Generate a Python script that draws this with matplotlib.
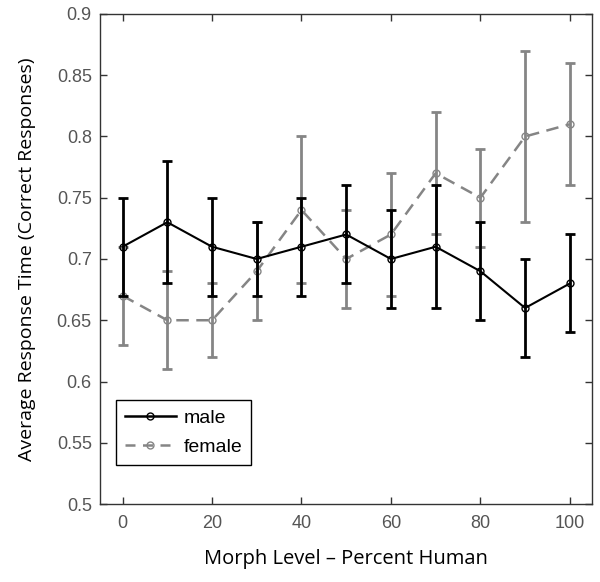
import numpy as np
import matplotlib
matplotlib.use("Agg")
import matplotlib.pyplot as plt
from matplotlib.lines import Line2D

morph = [0, 10, 20, 30, 40, 50, 60, 70, 80, 90, 100]

male_mean = [0.71, 0.73, 0.71, 0.70, 0.71, 0.72, 0.70, 0.71, 0.69, 0.66, 0.68]
male_lo = [0.67, 0.68, 0.67, 0.67, 0.67, 0.68, 0.66, 0.66, 0.65, 0.62, 0.64]
male_hi = [0.75, 0.78, 0.75, 0.73, 0.75, 0.76, 0.74, 0.76, 0.73, 0.70, 0.72]

female_mean = [0.67, 0.65, 0.65, 0.69, 0.74, 0.70, 0.72, 0.77, 0.75, 0.80, 0.81]
female_lo = [0.63, 0.61, 0.62, 0.65, 0.68, 0.66, 0.67, 0.72, 0.71, 0.73, 0.76]
female_hi = [0.71, 0.69, 0.68, 0.73, 0.80, 0.74, 0.77, 0.82, 0.79, 0.87, 0.86]

xticks = [0, 20, 40, 60, 80, 100]
yticks = [0.5, 0.55, 0.6, 0.65, 0.7, 0.75, 0.8, 0.85, 0.9]

GRAY = "#858585"

fig = plt.figure(figsize=(6.0, 5.82), dpi=100)
ax = fig.add_axes([0.167, 0.134, 0.82, 0.842])

m = np.array(male_mean)
f = np.array(female_mean)
merr = [m - np.array(male_lo), np.array(male_hi) - m]
ferr = [f - np.array(female_lo), np.array(female_hi) - f]

ax.errorbar(morph, f, yerr=ferr, color=GRAY, linestyle="--", linewidth=1.8,
            dashes=(5, 3), marker="o", markersize=5, markerfacecolor="none",
            markeredgecolor=GRAY, ecolor=GRAY, elinewidth=2.0, capsize=3.8,
            capthick=2.0, zorder=2)
ax.errorbar(morph, m, yerr=merr, color="black", linestyle="-", linewidth=1.5,
            marker="o", markersize=5, markerfacecolor="none",
            markeredgecolor="black", ecolor="black", elinewidth=2.0,
            capsize=3.8, capthick=2.0, zorder=3)

ax.set_xlim(-5, 105)
ax.set_ylim(0.5, 0.9)
ax.set_xticks(xticks)
ax.set_yticks(yticks)
ax.set_xticklabels([str(v) for v in xticks])
ax.set_yticklabels([f"{v:g}" for v in yticks])
ax.tick_params(direction="in", length=5, width=1, top=True, right=True,
               labelsize=13, labelcolor="#555555", color="#333333")
ax.tick_params(axis="x", pad=8)
ax.tick_params(axis="y", pad=6)
for lbl in ax.get_xticklabels() + ax.get_yticklabels():
    lbl.set_family("Liberation Sans")
for s in ax.spines.values():
    s.set_linewidth(1.0)
    s.set_color("#333333")

ax.set_xlabel("Morph Level \u2013 Percent Human", fontsize=14.5,
              family="Open Sans", labelpad=12)
ax.set_ylabel("Average Response Time (Correct Responses)", fontsize=14,
              family="Open Sans", labelpad=15)

handles = [
    Line2D([], [], color="black", linewidth=1.8, marker="o", markersize=5,
           markerfacecolor="none"),
    Line2D([], [], color=GRAY, linewidth=1.8, linestyle="--", dashes=(4, 3),
           marker="o", markersize=5, markerfacecolor="none"),
]
leg = ax.legend(handles, ["male", "female"], loc="lower left",
                bbox_to_anchor=(0.033, 0.08), fancybox=False, framealpha=1,
                edgecolor="black", prop={"family": "Liberation Sans", "size": 14},
                handlelength=2.6, handletextpad=0.4, borderpad=0.45,
                labelspacing=0.6, borderaxespad=0)
leg.get_frame().set_linewidth(1.0)

fig.savefig("out.png", dpi=100)
